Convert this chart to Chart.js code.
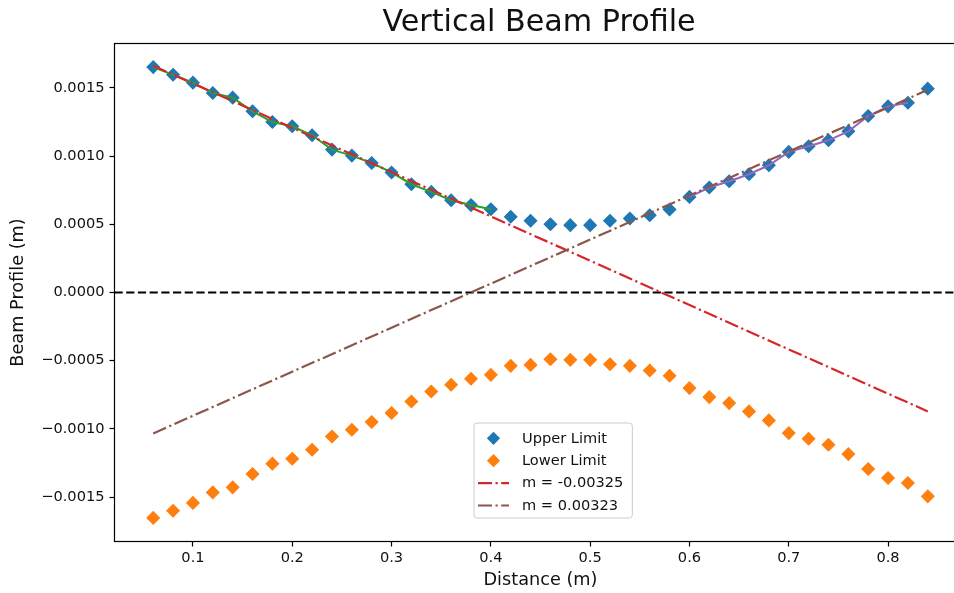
<!DOCTYPE html>
<html>
<head>
<meta charset="utf-8">
<script src="https://cdn.jsdelivr.net/npm/chart.js@4.4.0/dist/chart.umd.min.js"></script>
<style>
  html, body { margin: 0; padding: 0; overflow: hidden; background: #ffffff; }
  #wrap { width: 980px; height: 593px; }
</style>
</head>
<body>
<div id="wrap"><canvas id="beam" width="980" height="593"></canvas></div>
<script>
// Measurement positions along the beam (m)
const distance = [
  0.06, 0.08, 0.10, 0.12, 0.14, 0.16, 0.18, 0.20, 0.22, 0.24,
  0.26, 0.28, 0.30, 0.32, 0.34, 0.36, 0.38, 0.40, 0.42, 0.44,
  0.46, 0.48, 0.50, 0.52, 0.54, 0.56, 0.58, 0.60, 0.62, 0.64,
  0.66, 0.68, 0.70, 0.72, 0.74, 0.76, 0.78, 0.80, 0.82, 0.84
];

// Upper edge of the beam (m)
const upperLimit = [
  0.001653, 0.001597, 0.001539, 0.001463, 0.001429, 0.001329, 0.001250, 0.001219, 0.001153, 0.001048,
  0.001004, 0.000950, 0.000880, 0.000794, 0.000738, 0.000677, 0.000641, 0.000611, 0.000555, 0.000526,
  0.000501, 0.000494, 0.000494, 0.000526, 0.000543, 0.000567, 0.000609, 0.000701, 0.000770, 0.000816,
  0.000867, 0.000933, 0.001031, 0.001072, 0.001116, 0.001182, 0.001294, 0.001365, 0.001392, 0.001495
];

// Lower edge of the beam (m)
const lowerLimit = [
  -0.001653, -0.001600, -0.001543, -0.001466, -0.001429, -0.001331, -0.001255, -0.001219, -0.001153, -0.001056,
  -0.001007, -0.000950, -0.000884, -0.000799, -0.000726, -0.000677, -0.000633, -0.000604, -0.000538, -0.000531,
  -0.000489, -0.000494, -0.000494, -0.000526, -0.000538, -0.000572, -0.000611, -0.000701, -0.000767, -0.000811,
  -0.000872, -0.000938, -0.001031, -0.001072, -0.001116, -0.001185, -0.001294, -0.001360, -0.001397, -0.001495
];

// Portions of the upper edge used for the two linear fits (m)
const convergingRange = [0.06, 0.40];
const divergingRange = [0.60, 0.82];

// Linear fits y = m * x + b
const fitSlopes = [-0.00325, 0.00323];
const fitIntercepts = [0.001858, -0.001227];
const fitSpan = [0.06, 0.84];

// Axis ticks and limits
const xTicks = [0.1, 0.2, 0.3, 0.4, 0.5, 0.6, 0.7, 0.8];
const yTicks = [-0.0015, -0.0010, -0.0005, 0.0, 0.0005, 0.0010, 0.0015];
const xLimits = [0.021, 0.879];
const yLimits = [-0.001826, 0.001826];
const baseline = 0;

const FONT = '"DejaVu Sans", "Liberation Sans", sans-serif';
const TEXT = '#111111';

const toPoints = (xs, ys) => xs.map((x, i) => ({ x: x, y: ys[i] }));
const segment = (range) => distance
  .map((x, i) => ({ x: x, y: upperLimit[i] }))
  .filter(p => p.x >= range[0] - 1e-9 && p.x <= range[1] + 1e-9);
const fitLine = (k) => fitSpan.map(x => ({ x: x, y: fitSlopes[k] * x + fitIntercepts[k] }));

const DASH_DOT = [14, 3.5, 2.2, 3.5];

const datasets = [
  { label: 'Upper Limit', data: toPoints(distance, upperLimit), showLine: false,
    pointStyle: 'rectRot', pointRadius: 6.2, pointBorderWidth: 1.2,
    backgroundColor: '#1f77b4', borderColor: '#1f77b4', legendKind: 'marker' },
  { label: 'Lower Limit', data: toPoints(distance, lowerLimit), showLine: false,
    pointStyle: 'rectRot', pointRadius: 6.2, pointBorderWidth: 1.2,
    backgroundColor: '#ff7f0e', borderColor: '#ff7f0e', legendKind: 'marker' },
  { label: '', data: segment(convergingRange), showLine: true, pointRadius: 0,
    borderColor: '#2ca02c', borderWidth: 2.0, tension: 0 },
  { label: 'm = ' + fitSlopes[0], data: fitLine(0), showLine: true, pointRadius: 0,
    borderColor: '#d62728', borderWidth: 2.2, borderDash: DASH_DOT, legendKind: 'line' },
  { label: '', data: segment(divergingRange), showLine: true, pointRadius: 0,
    borderColor: '#9467bd', borderWidth: 2.0, tension: 0 },
  { label: 'm = ' + fitSlopes[1], data: fitLine(1), showLine: true, pointRadius: 0,
    borderColor: '#8c564b', borderWidth: 2.2, borderDash: DASH_DOT, legendKind: 'line' }
];
// later datasets are painted above earlier ones
datasets.forEach((d, i) => { d.order = datasets.length - i; });

function diamond(ctx, x, y, r, color) {
  ctx.save();
  ctx.beginPath();
  ctx.moveTo(x - r, y);
  ctx.lineTo(x, y - r);
  ctx.lineTo(x + r, y);
  ctx.lineTo(x, y + r);
  ctx.closePath();
  ctx.fillStyle = color;
  ctx.fill();
  ctx.restore();
}

function roundedRect(ctx, x, y, w, h, r) {
  ctx.beginPath();
  ctx.moveTo(x + r, y);
  ctx.lineTo(x + w - r, y);
  ctx.arcTo(x + w, y, x + w, y + r, r);
  ctx.lineTo(x + w, y + h - r);
  ctx.arcTo(x + w, y + h, x + w - r, y + h, r);
  ctx.lineTo(x + r, y + h);
  ctx.arcTo(x, y + h, x, y + h - r, r);
  ctx.lineTo(x, y + r);
  ctx.arcTo(x, y, x + r, y, r);
  ctx.closePath();
}

const decorations = {
  id: 'decorations',
  beforeDatasetsDraw(chart) {
    const { ctx, chartArea: a, scales } = chart;
    const y0 = scales.y.getPixelForValue(baseline);
    ctx.save();
    ctx.beginPath();
    ctx.rect(a.left, a.top, a.right - a.left, a.bottom - a.top);
    ctx.clip();
    ctx.strokeStyle = '#000000';
    ctx.lineWidth = 2.2;
    ctx.setLineDash([8.2, 3.5]);
    ctx.beginPath();
    ctx.moveTo(a.left, y0);
    ctx.lineTo(a.right, y0);
    ctx.stroke();
    ctx.restore();
  },
  afterDatasetsDraw(chart) {
    const { ctx, chartArea: a } = chart;
    ctx.save();
    ctx.strokeStyle = '#000000';
    ctx.lineWidth = 1.2;
    ctx.strokeRect(a.left, a.top, a.right - a.left, a.bottom - a.top);
    // title
    ctx.fillStyle = TEXT;
    ctx.font = '30.2px ' + FONT;
    ctx.textAlign = 'center';
    ctx.textBaseline = 'alphabetic';
    ctx.fillText('Vertical Beam Profile', (a.left + a.right) / 2 - 1.5, 30.5);
    ctx.restore();
  },
  afterDraw(chart) {
    const ctx = chart.ctx;
    const items = chart.data.datasets.filter(d => d.label);
    const left = 474, top = 423, rowH = 22.4, firstRow = 438.3;
    const handleX0 = 478, handleX1 = 509, textX = 522;
    ctx.save();
    ctx.font = '14.6px ' + FONT;
    const maxW = Math.max(...items.map(d => ctx.measureText(d.label).width));
    const w = textX + maxW + 9 - left;
    const h = 95;
    roundedRect(ctx, left, top, w, h, 3);
    ctx.fillStyle = 'rgba(255,255,255,0.8)';
    ctx.fill();
    ctx.strokeStyle = '#cccccc';
    ctx.lineWidth = 1;
    ctx.stroke();
    items.forEach((d, i) => {
      const cy = firstRow + i * rowH;
      if (d.legendKind === 'marker') {
        diamond(ctx, (handleX0 + handleX1) / 2, cy, 6.6, d.backgroundColor);
      } else {
        ctx.save();
        ctx.strokeStyle = d.borderColor;
        ctx.lineWidth = d.borderWidth;
        ctx.setLineDash(d.borderDash || []);
        ctx.beginPath();
        ctx.moveTo(handleX0, cy);
        ctx.lineTo(handleX1, cy);
        ctx.stroke();
        ctx.restore();
      }
      ctx.fillStyle = TEXT;
      ctx.textAlign = 'left';
      ctx.textBaseline = 'middle';
      ctx.fillText(d.label, textX, cy + 0.5);
    });
    ctx.restore();
  }
};

const tickFont = { family: FONT, size: 14.6 };

new Chart(document.getElementById('beam'), {
  type: 'scatter',
  data: { datasets: datasets },
  plugins: [decorations],
  options: {
    responsive: false,
    animation: false,
    devicePixelRatio: 1,
    layout: { padding: { left: 0, top: 43.5, right: 980 - 966.5, bottom: 0 } },
    plugins: {
      legend: { display: false },
      tooltip: { enabled: false },
      title: { display: false }
    },
    scales: {
      x: {
        type: 'linear',
        position: 'bottom',
        min: xLimits[0],
        max: xLimits[1],
        afterFit: (s) => { s.height = 593 - 541.5; },
        afterBuildTicks: (s) => { s.ticks = xTicks.map(v => ({ value: v })); },
        grid: { display: true, drawOnChartArea: false, drawTicks: true, tickLength: 5,
                tickWidth: 1.2, tickColor: '#000000' },
        border: { display: false },
        ticks: { font: tickFont, color: TEXT, padding: 3, maxRotation: 0, autoSkip: false,
                 callback: (v) => Number(v).toFixed(1) },
        title: { display: true, text: 'Distance (m)', color: TEXT, padding: 0,
                 font: { family: FONT, size: 17.7, lineHeight: '26px' } }
      },
      y: {
        type: 'linear',
        position: 'left',
        min: yLimits[0],
        max: yLimits[1],
        afterFit: (s) => { s.width = 114.5; },
        afterBuildTicks: (s) => { s.ticks = yTicks.map(v => ({ value: v })); },
        grid: { display: true, drawOnChartArea: false, drawTicks: true, tickLength: 5,
                tickWidth: 1.2, tickColor: '#000000' },
        border: { display: false },
        ticks: { font: tickFont, color: TEXT, padding: 5, autoSkip: false,
                 callback: (v) => Number(v).toFixed(4).replace('-', '\u2212') },
        title: { display: true, text: 'Beam Profile (m)', color: TEXT, padding: 0,
                 font: { family: FONT, size: 17.7, lineHeight: '37px' } }
      }
    }
  }
});
</script>
</body>
</html>
